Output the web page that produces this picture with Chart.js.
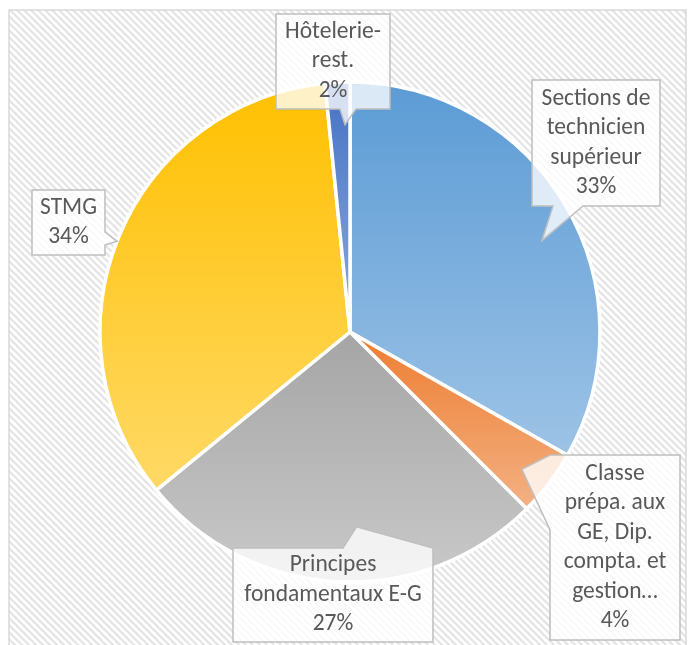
<!DOCTYPE html>
<html>
<head>
<meta charset="utf-8">
<script src="https://cdn.jsdelivr.net/npm/chart.js@4/dist/chart.umd.min.js"></script>
<style>
html,body{margin:0;padding:0;background:#fff;}
#wrap{width:688px;height:645px;position:relative;}
</style>
</head>
<body>
<div id="wrap"><canvas id="c" width="688" height="645"></canvas></div>
<script>
// ---- data ----
const categories = [
  ["Sections de", "technicien", "supérieur"],
  ["Classe", "prépa. aux", "GE, Dip.", "compta. et", "gestion…"],
  ["Principes", "fondamentaux E-G"],
  ["STMG"],
  ["Hôtelerie-", "rest."]
];
const values = [33.2, 4.3, 26.6, 34.3, 1.6];
const colorsTop    = ["#5B9BD5", "#ED7D31", "#A5A5A5", "#FFC000", "#4472C4"];
const colorsBottom = ["#9DC3E6", "#F4B183", "#C9C9C9", "#FFD966", "#8FAADC"];

// ---- annotation layout (callout boxes) ----
const callouts = [
  {box:[532, 80, 128, 126], side:"bottom", base:[553, 583], tip:[0.54, 0.85]},
  {box:[550, 455, 130, 185], side:"left",  base:[455, 530], tip:[0.59, 0.88]},
  {box:[233, 548, 200, 94],  side:"top",   base:[343, 433], tip:[0.45, 0.78]},
  {box:[32, 190, 73, 65],    side:"right", base:[232, 245], tip:[0.49, 1.0]},
  {box:[276, 14, 114, 95],   side:"bottom",base:[340, 356], tip:[0.76, 0.83]}
];
const FONT = '23.5px Carlito, Calibri, Lato, sans-serif';
const LINE_H = 29.5;

const total = values.reduce((a, b) => a + b, 0);

function sliceGradient(context) {
  const chart = context.chart;
  const area = chart.chartArea;
  const i = context.dataIndex;
  if (!area || i === undefined) return colorsTop[i || 0];
  const cx = (area.left + area.right) / 2, cy = (area.top + area.bottom) / 2;
  const r = Math.min(area.right - area.left, area.bottom - area.top) / 2;
  let cum = 0;
  for (let k = 0; k < i; k++) cum += values[k];
  const a0 = -Math.PI / 2 + cum / total * 2 * Math.PI;
  const a1 = a0 + values[i] / total * 2 * Math.PI;
  const ys = [cy, cy + r * Math.sin(a0), cy + r * Math.sin(a1)];
  for (const ext of [-Math.PI / 2, Math.PI / 2, 3 * Math.PI / 2]) {
    if (ext >= a0 && ext <= a1) ys.push(cy + r * Math.sin(ext));
  }
  const y0 = Math.min(...ys), y1 = Math.max(...ys);
  const g = chart.ctx.createLinearGradient(0, y0, 0, y1);
  g.addColorStop(0, colorsTop[i]);
  g.addColorStop(1, colorsBottom[i]);
  return g;
}

let hatch = null;
function getHatch(ctx) {
  if (hatch) return hatch;
  const s = 7;
  const t = document.createElement('canvas');
  t.width = s; t.height = s;
  const c = t.getContext('2d');
  c.fillStyle = '#ffffff';
  c.fillRect(0, 0, s, s);
  c.strokeStyle = '#E4E4E4';
  c.lineWidth = 2.2;
  c.beginPath();
  c.moveTo(-s, -s); c.lineTo(2 * s, 2 * s);
  c.moveTo(-2 * s, -s); c.lineTo(s, 2 * s);
  c.moveTo(0, -s); c.lineTo(3 * s, 2 * s);
  c.stroke();
  hatch = ctx.createPattern(t, 'repeat');
  return hatch;
}

const backgroundPlugin = {
  id: 'bgFrame',
  beforeDraw(chart) {
    const ctx = chart.ctx;
    ctx.save();
    ctx.fillStyle = '#ffffff';
    ctx.fillRect(0, 0, chart.width, chart.height);
    ctx.fillStyle = getHatch(ctx);
    ctx.fillRect(9, 10, 677, 640);
    ctx.strokeStyle = '#D9D9D9';
    ctx.lineWidth = 1.5;
    ctx.strokeRect(9, 10, 677, 640);
    ctx.restore();
  }
};

function calloutPath(ctx, L, tip) {
  const [x, y, w, h] = L.box;
  const r = x + w, b = y + h;
  const [p, q] = L.base;
  ctx.beginPath();
  ctx.moveTo(x, y);
  if (L.side === 'top') { ctx.lineTo(p, y); ctx.lineTo(tip.x, tip.y); ctx.lineTo(q, y); }
  ctx.lineTo(r, y);
  if (L.side === 'right') { ctx.lineTo(r, p); ctx.lineTo(tip.x, tip.y); ctx.lineTo(r, q); }
  ctx.lineTo(r, b);
  if (L.side === 'bottom') { ctx.lineTo(q, b); ctx.lineTo(tip.x, tip.y); ctx.lineTo(p, b); }
  ctx.lineTo(x, b);
  if (L.side === 'left') { ctx.lineTo(x, q); ctx.lineTo(tip.x, tip.y); ctx.lineTo(x, p); }
  ctx.closePath();
}

const calloutPlugin = {
  id: 'callouts',
  afterDatasetsDraw(chart) {
    const ctx = chart.ctx;
    const meta = chart.getDatasetMeta(0);
    ctx.save();
    meta.data.forEach((arc, i) => {
      const L = callouts[i];
      const ang = arc.startAngle + L.tip[0] * (arc.endAngle - arc.startAngle);
      const rad = L.tip[1] * arc.outerRadius;
      const tip = {x: arc.x + Math.cos(ang) * rad, y: arc.y + Math.sin(ang) * rad};
      calloutPath(ctx, L, tip);
      ctx.fillStyle = 'rgba(255,255,255,0.78)';
      ctx.fill();
      ctx.strokeStyle = '#BFBFBF';
      ctx.lineWidth = 1.5;
      ctx.lineJoin = 'miter';
      ctx.stroke();
      const lines = categories[i].concat([Math.round(values[i] / total * 100) + '%']);
      ctx.fillStyle = '#595959';
      ctx.font = FONT;
      ctx.textAlign = 'center';
      ctx.textBaseline = 'middle';
      const [bx, by, bw, bh] = L.box;
      const cxT = bx + bw / 2;
      const cyT = by + bh / 2;
      const startY = cyT - (lines.length - 1) * LINE_H / 2;
      lines.forEach((t, k) => ctx.fillText(t, cxT, startY + k * LINE_H));
    });
    ctx.restore();
  }
};

new Chart(document.getElementById('c'), {
  type: 'pie',
  data: {
    labels: categories,
    datasets: [{
      data: values,
      backgroundColor: sliceGradient,
      borderColor: '#ffffff',
      borderWidth: 3.5,
      hoverOffset: 0,
      offset: 0
    }]
  },
  options: {
    responsive: false,
    animation: false,
    layout: {padding: {left: 100, right: 88, top: 82, bottom: 63}},
    radius: 250,
    plugins: {
      legend: {display: false},
      tooltip: {enabled: false}
    },
    events: []
  },
  plugins: [backgroundPlugin, calloutPlugin]
});
</script>
</body>
</html>
